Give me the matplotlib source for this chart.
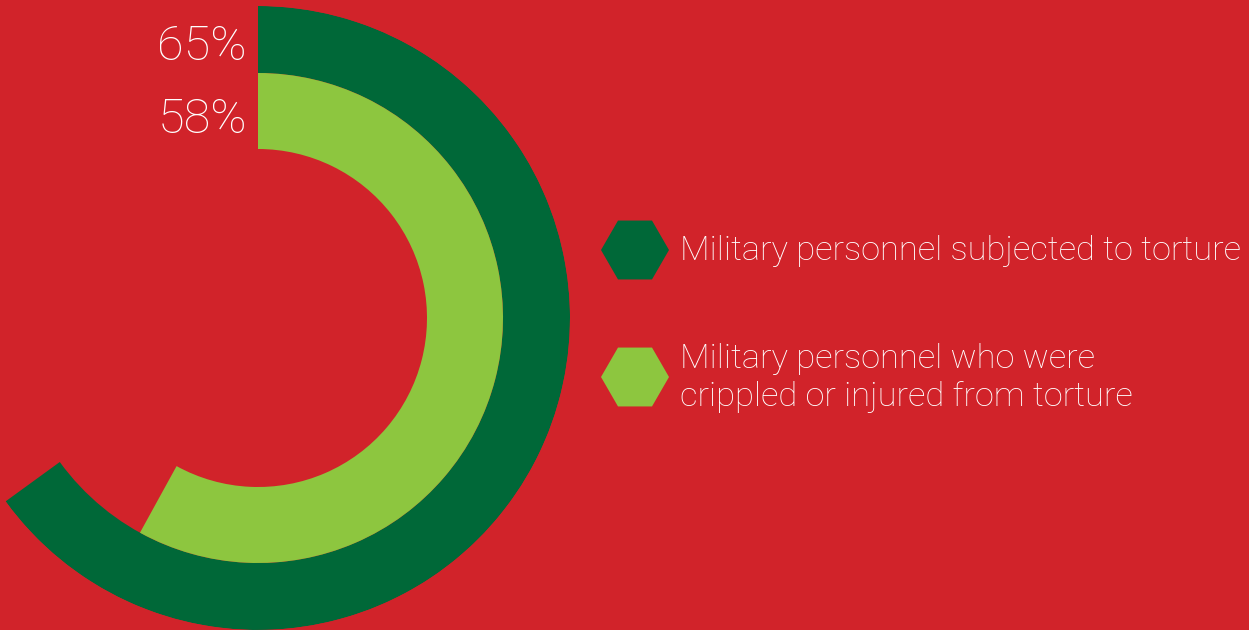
import numpy as np
import matplotlib
matplotlib.use("Agg")
import matplotlib.pyplot as plt
from matplotlib.patches import RegularPolygon

# ── Data ──────────────────────────────────────────────────────────────────────
labels = ["Military personnel subjected to torture",
          "Military personnel who were\ncrippled or injured from torture"]
values = [65, 58]                       # percent
pct_labels = ["65%", "58%"]
colors = ["#006838", "#8DC63F"]
BG = "#D1232A"

W, H = 1249, 630
fig = plt.figure(figsize=(W / 100, H / 100), dpi=100, facecolor=BG)

# ── Radial bars ───────────────────────────────────────────────────────────────
cx, cy, R = 258, 318, 312
ax = fig.add_axes([(cx - R) / W, (H - cy - R) / H, 2 * R / W, 2 * R / H],
                  projection="polar")
ax.set_theta_zero_location("N")
ax.set_theta_direction(-1)
ax.set_ylim(0, R)
ax.set_axis_off()
ax.patch.set_alpha(0)

ring_inner = [245, 169]
ring_width = [67, 76]
for v, b, w, c in zip(values, ring_inner, ring_width, colors):
    ax.bar(0, w, width=2 * np.pi * v / 100, bottom=b,
           align="edge", color=c, linewidth=0)

# ── Overlay for labels / legend (pixel coords) ────────────────────────────────
ov = fig.add_axes([0, 0, 1, 1])
ov.set_xlim(0, W)
ov.set_ylim(H, 0)
ov.set_axis_off()
ov.patch.set_alpha(0)

font = dict(family=["Roboto", "DejaVu Sans"], weight="light", color="white")

for lbl, y in zip(pct_labels, [47, 120]):
    ov.text(247, y, lbl, ha="right", va="center", fontsize=35, **font)

for lbl, c, y in zip(labels, colors, [250, 377]):
    ov.add_patch(RegularPolygon((635, y), 6, radius=34, orientation=np.pi / 6,
                                facecolor=c, edgecolor="none"))
    ov.text(680, y + 1, lbl, ha="left", va="center", fontsize=24.8,
            linespacing=1.25, **font)

fig.savefig("out.png", dpi=100, facecolor=BG)
